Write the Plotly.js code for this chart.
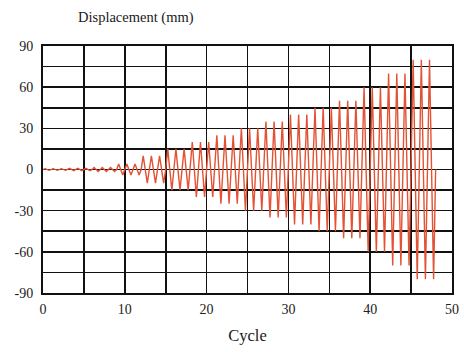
<!DOCTYPE html>
<html><head><meta charset="utf-8">
<script src="https://cdn.plot.ly/plotly-3.0.1.min.js"></script>
<style>html,body{margin:0;padding:0;background:#fff}#c{width:464px;height:352px}</style>
</head><body><div id="c"></div>
<script>
// Peak displacement (mm) of each cycle (cycles 0..47)
const cycleAmplitudes = [
  0.6, 0.6, 0.6, 0.8, 0.8, 0.8, 1.5, 1.5, 1.5,
  4, 4, 4, 10, 10, 10, 15, 15, 15, 20, 20, 20,
  25, 25, 25, 30, 30, 30, 35, 35, 35, 40, 40, 40,
  45, 45, 45, 50, 50, 50, 60, 60, 60, 70, 70, 70,
  80, 80, 80
];
const xTickVals = [0, 10, 20, 30, 40, 50];
const yTickVals = [-90, -60, -30, 0, 30, 60, 90];

// Triangular wave: each cycle goes 0 -> +A -> -A -> 0
const xs = [], ys = [];
cycleAmplitudes.forEach((a, i) => {
  xs.push(i, i + 0.25, i + 0.75);
  ys.push(0, a, -a);
});
xs.push(cycleAmplitudes.length); ys.push(0);

const serif = 'Liberation Serif';
const trace = {
  x: xs, y: ys, type: 'scatter', mode: 'lines',
  line: {color: 'rgb(226,82,52)', width: 1.4},
  hoverinfo: 'skip'
};
const axisCommon = {
  showline: true, mirror: true, linecolor: '#111', linewidth: 2,
  gridcolor: '#111', gridwidth: 1.6, zeroline: false,
  ticks: '', tickfont: {family: serif, size: 14, color: '#222'}
};
const layout = {
  width: 464, height: 352,
  margin: {l: 43, r: 12, t: 46, b: 59},
  paper_bgcolor: '#fff', plot_bgcolor: '#fff',
  font: {family: serif},
  showlegend: false,
  xaxis: Object.assign({}, axisCommon, {
    range: [0, 50], tickvals: xTickVals, ticktext: xTickVals.map(String),
    minor: {dtick: 5, tick0: 0, showgrid: true, gridcolor: '#111', gridwidth: 1.6},
    title: {text: 'Cycle', font: {family: serif, size: 16.5, color: '#1a1a1a'}, standoff: 14},
    ticklabelstandoff: 2
  }),
  yaxis: Object.assign({}, axisCommon, {
    range: [-90, 90], tickvals: yTickVals, ticktext: yTickVals.map(String),
    minor: {dtick: 15, tick0: 0, showgrid: true, gridcolor: '#111', gridwidth: 1.6},
    ticklabelstandoff: 5
  }),
  annotations: [{
    text: 'Displacement (mm)', xref: 'paper', yref: 'paper', x: 0.08, y: 1.115,
    xanchor: 'left', yanchor: 'middle', showarrow: false,
    font: {family: serif, size: 14.5, color: '#1a1a1a'}
  }]
};
Plotly.newPlot('c', [trace], layout, {staticPlot: true, displayModeBar: false});
</script></body></html>
